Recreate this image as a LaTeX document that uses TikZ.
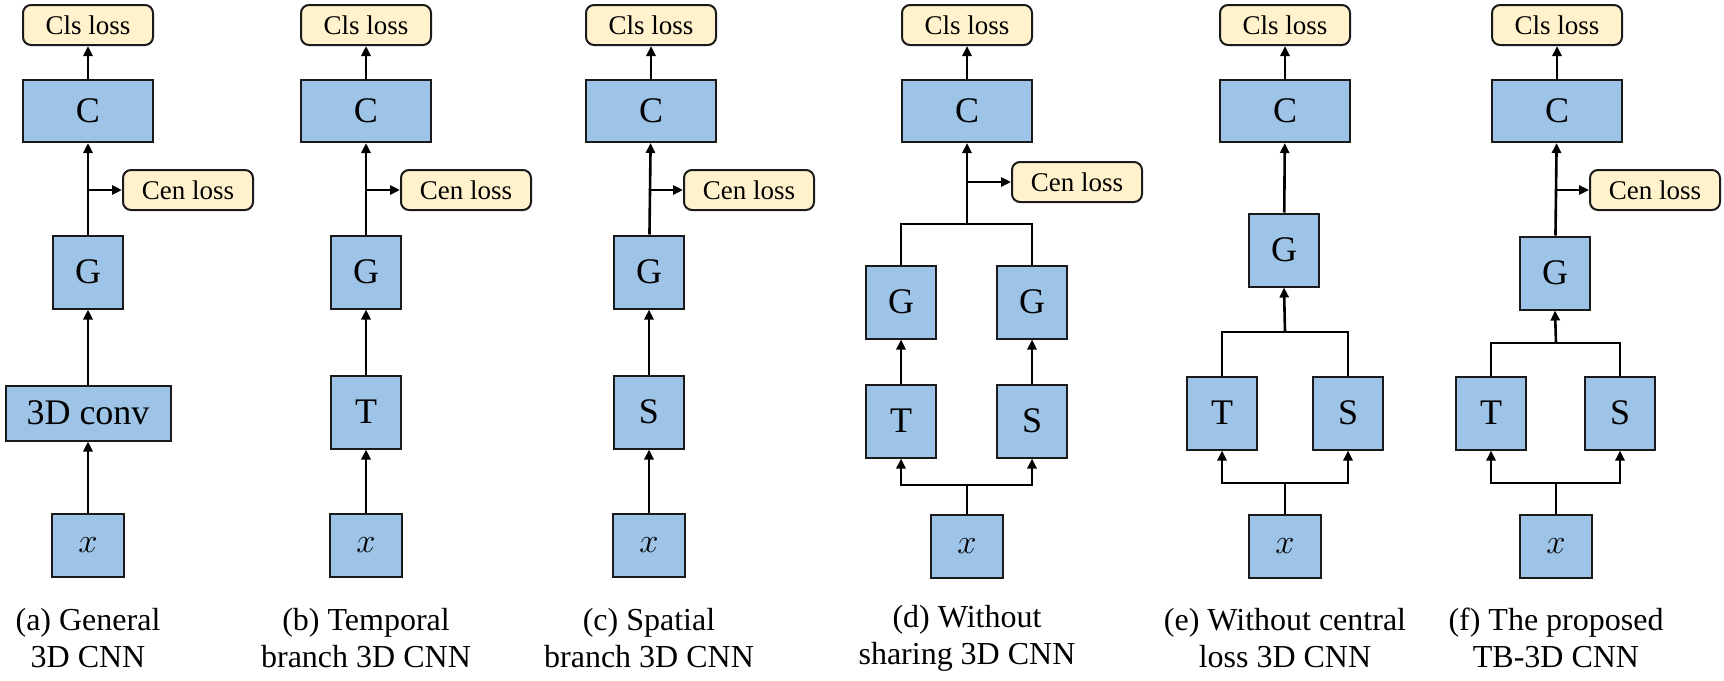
\documentclass[tikz,border=0pt]{standalone}
\usepackage{fontspec}
\setmainfont{Liberation Serif}
\usetikzlibrary{positioning, calc, arrows.meta}
\definecolor{boxblue}{HTML}{9DC3E6}
\definecolor{lossyellow}{HTML}{FFF2CC}
\definecolor{edgedark}{HTML}{1A1A1A}
\tikzset{
  blk/.style={draw=edgedark, line width=1pt, fill=boxblue, inner sep=0pt,
    minimum width=35pt, minimum height=36.5pt, font=\fontsize{18}{20}\selectfont},
  wideblk/.style={blk, minimum width=65pt, minimum height=31pt},
  inblk/.style={blk, minimum width=36pt, minimum height=31.5pt},
  lossbox/.style={draw=edgedark, line width=1pt, fill=lossyellow, rounded corners=4pt,
    inner sep=0pt, minimum width=65pt, minimum height=20pt, font=\fontsize{13.5}{15}\selectfont},
  arr/.style={-{Triangle[length=5pt,width=4.5pt]}, line width=1.3pt},
  lnk/.style={line width=1.3pt},
  capt/.style={align=center, font=\fontsize{16}{18.5}\selectfont}
}
\begin{document}
\begin{tikzpicture}[x=0.5pt, y=-0.5pt]
    \useasboundingbox (0,0) rectangle (1724,680);
    % (a) general 3D CNN
    \node[lossbox] (Lsa) at (88, 25)  {Cls loss};
    \node[wideblk] (Ca) at (88, 111)  {C};
    \node[lossbox] (Lca) at (188, 190) {Cen loss};
    \node[blk] (Ga) at (88, 272)      {G};
    \node[blk, minimum width=82.5pt, minimum height=27.5pt] (Va) at (88, 413) {3D conv};
    \node[inblk] (Xa) at (88, 545)    {$x$};
    \node[capt] (capa) at (88, 638)   {(a) General\\3D CNN};
    \draw[arr] (Ca) -- (Lsa);
    \draw[arr] (Ga) -- (Ca);
    \draw[arr] (Ca.south |- Lca.west) -- (Lca.west);
    \draw[arr] (Va) -- (Ga);
    \draw[arr] (Xa) -- (Va);
    % (b) temporal branch
    \node[lossbox] (Lsb) at (366, 25)  {Cls loss};
    \node[wideblk] (Cb) at (366, 111)  {C};
    \node[lossbox] (Lcb) at (466, 190) {Cen loss};
    \node[blk] (Gb) at (366, 272)      {G};
    \node[blk] (Tb) at (366, 412)      {T};
    \node[inblk] (Xb) at (366, 545)    {$x$};
    \node[capt] (capb) at (366, 638)   {(b) Temporal\\branch 3D CNN};
    \draw[arr] (Cb) -- (Lsb);
    \draw[arr] (Gb) -- (Cb);
    \draw[arr] (Cb.south |- Lcb.west) -- (Lcb.west);
    \draw[arr] (Tb) -- (Gb);
    \draw[arr] (Xb) -- (Tb);
    % (c) spatial branch
    \node[lossbox] (Lsc) at (651, 25)  {Cls loss};
    \node[wideblk] (Cc) at (651, 111)  {C};
    \node[lossbox] (Lcc) at (749, 190) {Cen loss};
    \node[blk] (Gc) at (649, 272)      {G};
    \node[blk] (Sc) at (649, 412)      {S};
    \node[inblk] (Xc) at (649, 545)    {$x$};
    \node[capt] (capc) at (649, 638)   {(c) Spatial\\branch 3D CNN};
    \draw[arr] (Cc) -- (Lsc);
    \draw[arr] (Gc) -- (Cc);
    \draw[arr] (Cc.south |- Lcc.west) -- (Lcc.west);
    \draw[arr] (Sc) -- (Gc);
    \draw[arr] (Xc) -- (Sc);
    % (d) without sharing
    \node[lossbox] (Lsd) at (967, 25)   {Cls loss};
    \node[wideblk] (Cd) at (967, 111)   {C};
    \node[lossbox] (Lcd) at (1077, 182) {Cen loss};
    \node[blk] (Gd1) at (901, 302)      {G};
    \node[blk] (Gd2) at (1032, 302)     {G};
    \node[blk] (Td) at (901, 421)       {T};
    \node[blk] (Sd) at (1032, 421)      {S};
    \node[inblk] (Xd) at (967, 546)     {$x$};
    \node[capt] (capd) at (967, 638)    {(d) Without\\sharing 3D CNN};
    \coordinate (jd) at (967, 224);
    \coordinate (sd) at (967, 485);
    \draw[arr] (Cd) -- (Lsd);
    \draw[lnk] (Gd1.north) |- (jd) -| (Gd2.north);
    \draw[arr] (jd) -- (Cd.south);
    \draw[arr] (Cd.south |- Lcd.west) -- (Lcd.west);
    \draw[arr] (Td) -- (Gd1);
    \draw[arr] (Sd) -- (Gd2);
    \draw[lnk] (Xd.north) -- (sd);
    \draw[arr] (sd) -| (Td.south);
    \draw[arr] (sd) -| (Sd.south);
    % (e) without central loss
    \node[lossbox] (Lse) at (1285, 25)  {Cls loss};
    \node[wideblk] (Ce) at (1285, 111)  {C};
    \node[blk] (Ge) at (1284, 250)      {G};
    \node[blk] (Te) at (1222, 413)      {T};
    \node[blk] (Se) at (1348, 413)      {S};
    \node[inblk] (Xe) at (1285, 546)    {$x$};
    \node[capt] (cape) at (1285, 638)   {(e) Without central\\loss 3D CNN};
    \coordinate (je) at (1285, 332);
    \coordinate (se) at (1285, 483);
    \draw[arr] (Ce) -- (Lse);
    \draw[arr] (Ge) -- (Ce);
    \draw[lnk] (Te.north) |- (je) -| (Se.north);
    \draw[arr] (je) -- (Ge.south);
    \draw[lnk] (Xe.north) -- (se);
    \draw[arr] (se) -| (Te.south);
    \draw[arr] (se) -| (Se.south);
    % (f) proposed TB-3D CNN
    \node[lossbox] (Lsf) at (1557, 25)  {Cls loss};
    \node[wideblk] (Cf) at (1557, 111)  {C};
    \node[lossbox] (Lcf) at (1655, 190) {Cen loss};
    \node[blk] (Gf) at (1555, 273)      {G};
    \node[blk] (Tf) at (1491, 413)      {T};
    \node[blk] (Sf) at (1620, 413)      {S};
    \node[inblk] (Xf) at (1556, 546)    {$x$};
    \node[capt] (capf) at (1556, 638)   {(f) The proposed\\TB-3D CNN};
    \coordinate (jf) at (1556, 343);
    \coordinate (sf) at (1556, 483);
    \draw[arr] (Cf) -- (Lsf);
    \draw[arr] (Gf) -- (Cf);
    \draw[arr] (Cf.south |- Lcf.west) -- (Lcf.west);
    \draw[lnk] (Tf.north) |- (jf) -| (Sf.north);
    \draw[arr] (jf) -- (Gf.south);
    \draw[lnk] (Xf.north) -- (sf);
    \draw[arr] (sf) -| (Tf.south);
    \draw[arr] (sf) -| (Sf.south);
\end{tikzpicture}
\end{document}
